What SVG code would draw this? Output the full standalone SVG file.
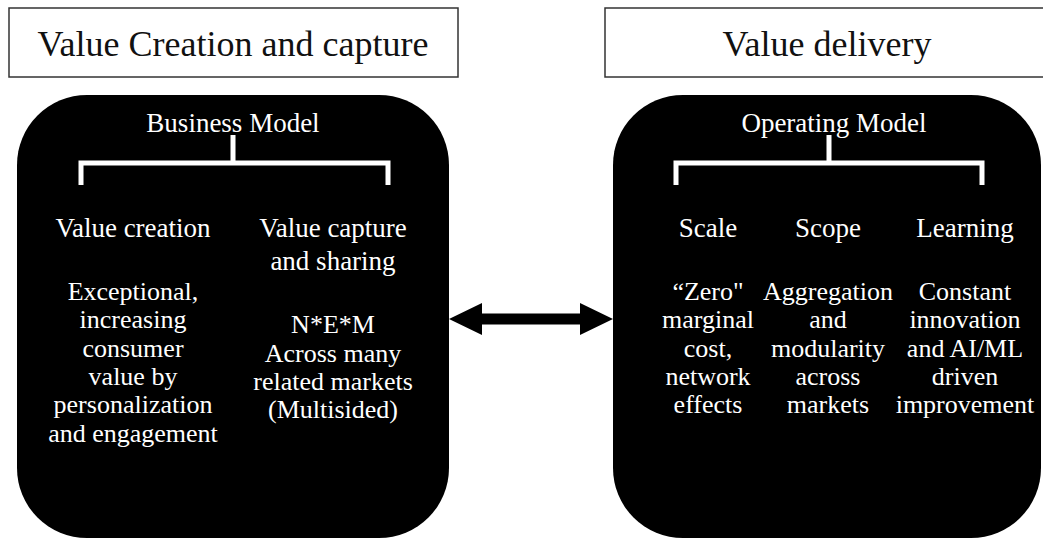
<svg xmlns="http://www.w3.org/2000/svg" width="1043" height="540" viewBox="0 0 1043 540">
<defs>
<style>
.title{fill:#fff;stroke:#333;stroke-width:1.5}
.tt{font-family:"Liberation Serif",serif;font-size:36px;fill:#111;text-anchor:middle}
.panel{fill:#000}
.hd{font-family:"Liberation Serif",serif;font-size:27px;fill:#fff;text-anchor:middle}
.bd{font-family:"Liberation Serif",serif;font-size:26px;fill:#fff;text-anchor:middle}
.br{fill:none;stroke:#fff;stroke-width:5}
</style>
<marker id="ah" viewBox="0 0 33 32" markerWidth="33" markerHeight="32" refX="0" refY="16" orient="auto-start-reverse" markerUnits="userSpaceOnUse">
<path d="M0,0 L33,16 L0,32 Z" fill="#000"/>
</marker>
</defs>
<rect width="1043" height="540" fill="#fff"/>

<g id="title-left">
<rect class="title" x="9" y="8" width="449" height="69"/>
<text class="tt" x="233" y="56">Value Creation and capture</text>
</g>
<g id="title-right">
<rect class="title" x="605" y="8" width="450" height="69"/>
<text class="tt" x="827" y="56">Value delivery</text>
</g>

<g id="business-model">
<rect class="panel" x="17" y="95" width="432" height="443" rx="70" ry="70"/>
<text class="hd" x="233" y="132">Business Model</text>
<path class="br" d="M81,185 V163 H388 V185 M233,135 V163"/>
<g id="value-creation">
<text class="hd" x="133" y="237">Value creation</text>
<text class="bd" x="133" y="300">Exceptional,</text>
<text class="bd" x="133" y="328">increasing</text>
<text class="bd" x="133" y="357">consumer</text>
<text class="bd" x="133" y="385">value by</text>
<text class="bd" x="133" y="413">personalization</text>
<text class="bd" x="133" y="442">and engagement</text>
</g>
<g id="value-capture">
<text class="hd" x="333" y="237">Value capture</text>
<text class="hd" x="333" y="270">and sharing</text>
<text class="bd" x="333" y="333">N*E*M</text>
<text class="bd" x="333" y="362">Across many</text>
<text class="bd" x="333" y="390">related markets</text>
<text class="bd" x="333" y="418">(Multisided)</text>
</g>
</g>

<g id="operating-model">
<rect class="panel" x="613" y="95" width="428" height="443" rx="70" ry="70"/>
<text class="hd" x="834" y="132">Operating Model</text>
<path class="br" d="M676,185 V163 H982 V185 M829,135 V163"/>
<g id="scale">
<text class="hd" x="708" y="237">Scale</text>
<text class="bd" x="708" y="300">“Zero"</text>
<text class="bd" x="708" y="328">marginal</text>
<text class="bd" x="708" y="357">cost,</text>
<text class="bd" x="708" y="385">network</text>
<text class="bd" x="708" y="413">effects</text>
</g>
<g id="scope">
<text class="hd" x="828" y="237">Scope</text>
<text class="bd" x="828" y="300">Aggregation</text>
<text class="bd" x="828" y="328">and</text>
<text class="bd" x="828" y="357">modularity</text>
<text class="bd" x="828" y="385">across</text>
<text class="bd" x="828" y="413">markets</text>
</g>
<g id="learning">
<text class="hd" x="965" y="237">Learning</text>
<text class="bd" x="965" y="300">Constant</text>
<text class="bd" x="965" y="328">innovation</text>
<text class="bd" x="965" y="357">and AI/ML</text>
<text class="bd" x="965" y="385">driven</text>
<text class="bd" x="965" y="413">improvement</text>
</g>
</g>

<g id="connectors">
<line x1="482" y1="319" x2="580" y2="319" stroke="#000" stroke-width="11" marker-start="url(#ah)" marker-end="url(#ah)"/>
</g>
</svg>
